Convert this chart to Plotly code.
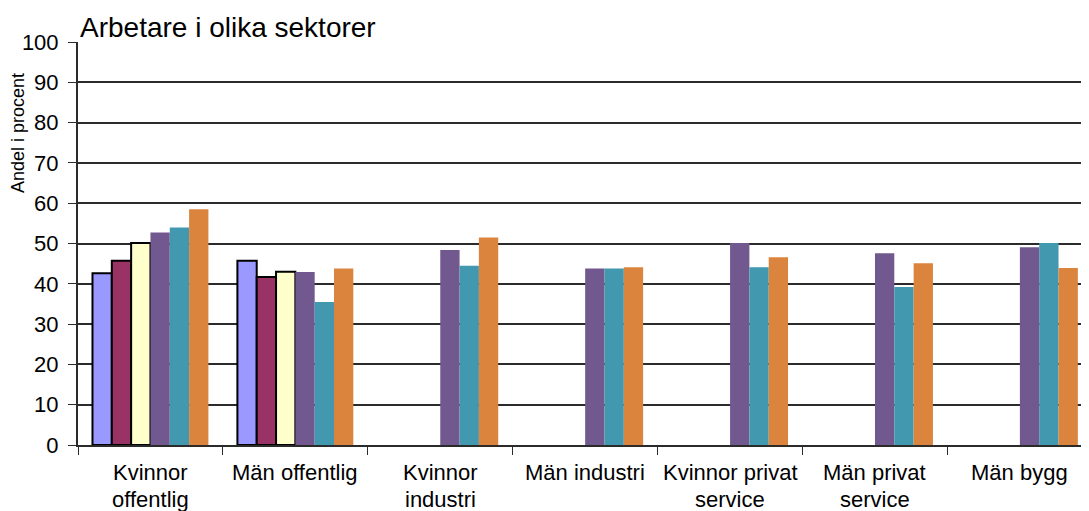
import plotly.graph_objects as go

categories = [
    "Kvinnor offentlig",
    "Män offentlig",
    "Kvinnor industri",
    "Män industri",
    "Kvinnor privat service",
    "Män privat service",
    "Män bygg",
]
# how each category label is broken over two lines under the axis
label_lines = [
    ("Kvinnor", "offentlig"),
    ("Män offentlig", ""),
    ("Kvinnor", "industri"),
    ("Män industri", ""),
    ("Kvinnor privat", "service"),
    ("Män privat", "service"),
    ("Män bygg", ""),
]

serie_1 = [42.6, 45.7, None, None, None, None, None]
serie_2 = [45.7, 41.7, None, None, None, None, None]
serie_3 = [50.1, 43.0, None, None, None, None, None]
serie_4 = [52.7, 42.9, 48.4, 43.8, 50.1, 47.6, 49.1]
serie_5 = [54.0, 35.5, 44.5, 43.8, 44.1, 39.2, 50.1]
serie_6 = [58.5, 43.8, 51.5, 44.1, 46.6, 45.1, 43.9]

y_ticks = list(range(0, 101, 10))

FONT = "Liberation Sans, Arial, sans-serif"

fig = go.Figure()
outlined = [(serie_1, "#9999ff"), (serie_2, "#993366"), (serie_3, "#ffffcc")]
for vals, color in outlined:
    fig.add_trace(go.Bar(x=categories, y=vals, marker={"color": color, "line": {"color": "black", "width": 2}}))
plain = [(serie_4, "#71588f"), (serie_5, "#4198af"), (serie_6, "#db843d")]
for vals, color in plain:
    fig.add_trace(go.Bar(x=categories, y=vals, marker={"color": color, "line": {"width": 0}}))

# page body has an 8px margin, so the figure is sized to fill the rest of the window
fig.update_layout(
    width=1081,
    height=503,
    barmode="group",
    bargap=0.2,
    bargroupgap=0,
    showlegend=False,
    plot_bgcolor="white",
    paper_bgcolor="white",
    margin={"l": 70, "r": 0, "t": 34, "b": 66, "autoexpand": False},
    font={"family": FONT, "color": "black"},
)

fig.update_yaxes(
    range=[0, 100],
    tickvals=y_ticks,
    showgrid=True,
    gridcolor="#2b2b2b",
    gridwidth=1.5,
    showline=True,
    linecolor="#2b2b2b",
    linewidth=2,
    ticks="outside",
    ticklen=8,
    tickcolor="#2b2b2b",
    tickfont={"size": 22},
    ticklabelstandoff=5,
    zeroline=False,
    automargin=False,
)

fig.update_xaxes(
    type="category",
    range=[-0.5, 6.477],
    tickson="boundaries",
    ticks="outside",
    ticklen=8,
    tickcolor="#2b2b2b",
    showline=True,
    linecolor="#2b2b2b",
    linewidth=2,
    showticklabels=False,
    showgrid=False,
    automargin=False,
)

# title
fig.add_annotation(
    text="Arbetare i olika sektorer",
    xref="paper", yref="paper", x=0, y=1,
    xanchor="left", yanchor="bottom", yshift=-3,
    showarrow=False,
    font={"size": 28},
)

# y axis title
fig.add_annotation(
    text="Andel i procent",
    textangle=-90,
    xref="paper", yref="paper", x=0, y=0.774,
    xanchor="center", yanchor="middle",
    xshift=-60,
    showarrow=False,
    font={"size": 18},
)

# category labels, two lines each
for cat, (first, second) in zip(categories, label_lines):
    for i, line in enumerate((first, second)):
        if line:
            fig.add_annotation(
                text=line,
                xref="x", yref="paper", x=cat, y=0,
                xanchor="center", yanchor="middle", yshift=-27 - 27 * i,
                showarrow=False,
                font={"size": 22},
            )

fig.write_html("out.html")
